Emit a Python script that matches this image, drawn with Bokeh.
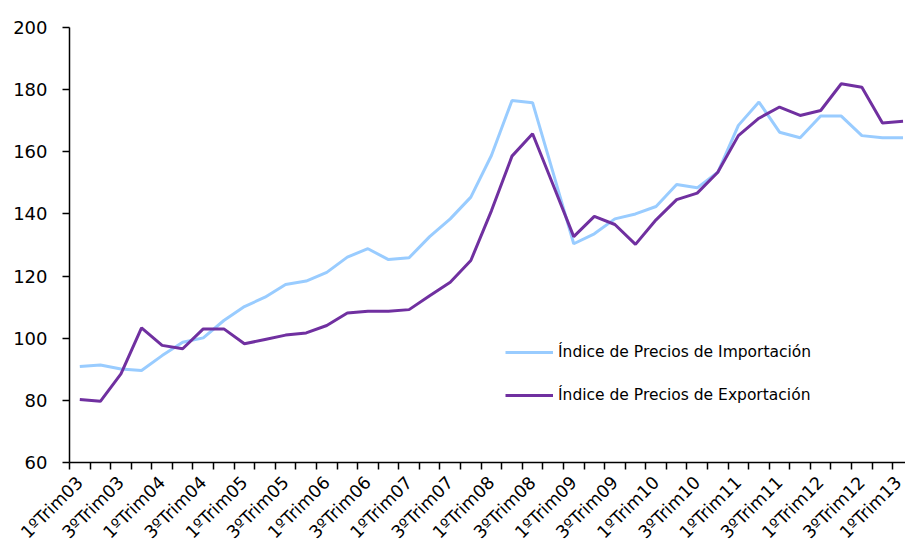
from bokeh.plotting import figure
from bokeh.models import Range1d, FixedTicker, Legend, LegendItem, ColumnDataSource
from bokeh.embed import file_html
from bokeh.resources import INLINE
import math

# ---- data ----
quarters = [f"{q}ºTrim{y:02d}" for y in range(3, 13) for q in (1, 2, 3, 4)] + ["1ºTrim13"]

importacion = [90.9, 91.4, 90.1, 89.6, 94.4, 98.7, 100.1, 105.7, 110.2, 113.2,
               117.3, 118.4, 121.2, 126.1, 128.8, 125.3, 125.9, 132.7, 138.4, 145.4,
               158.8, 176.5, 175.8, 153.2, 130.4, 133.6, 138.4, 140.0, 142.4, 149.5,
               148.4, 153.4, 168.5, 176.0, 166.3, 164.5, 171.5, 171.5, 165.2, 164.5,
               164.5]

exportacion = [80.3, 79.7, 88.5, 103.3, 97.7, 96.6, 103.0, 103.0, 98.2, 99.6,
               101.0, 101.7, 104.1, 108.1, 108.7, 108.7, 109.2, 113.7, 118.0, 125.0,
               141.0, 158.6, 165.8, 149.3, 132.7, 139.2, 136.6, 130.2, 138.1, 144.6,
               146.7, 153.4, 165.2, 170.8, 174.4, 171.7, 173.3, 181.9, 180.8, 169.3,
               169.8]

series_names = ["Índice de Precios de Importación", "Índice de Precios de Exportación"]
series_colors = ["#99CCFF", "#7030A0"]

y_ticks = [60, 80, 100, 120, 140, 160, 180, 200]

x = list(range(len(quarters)))
src = ColumnDataSource(dict(x=x, imp=importacion, exp=exportacion, q=quarters))

FONT = "DejaVu Sans"

p = figure(width=905, height=552, output_backend="svg", toolbar_location=None,
           x_range=Range1d(-0.5, 40.12), y_range=Range1d(60, 200),
           min_border_left=69, min_border_right=0, min_border_top=27, min_border_bottom=90)
p.outline_line_color = None
p.xgrid.visible = False
p.ygrid.visible = False

r_imp = p.line("x", "imp", source=src, line_color=series_colors[0], line_width=3)
r_exp = p.line("x", "exp", source=src, line_color=series_colors[1], line_width=3)

# x axis: tick marks at category boundaries, labels every other category
label_idx = list(range(0, len(quarters), 2))
p.xaxis.ticker = FixedTicker(ticks=label_idx, minor_ticks=[i - 0.5 for i in range(len(quarters) + 1)])
p.xaxis.major_label_overrides = {i: quarters[i] for i in label_idx}
p.xaxis.major_tick_line_color = None
p.xaxis.major_tick_out = 7
p.xaxis.major_tick_in = 0
p.xaxis.minor_tick_out = 7
p.xaxis.minor_tick_in = 0
p.xaxis.minor_tick_line_color = "#000000"
p.xaxis.minor_tick_line_width = 1.5
p.xaxis.axis_line_color = "#000000"
p.xaxis.axis_line_width = 1.5
p.xaxis.major_label_orientation = math.pi / 4
p.xaxis.major_label_text_font = FONT
p.xaxis.major_label_text_font_size = "17.5px"
p.xaxis.major_label_text_color = "#000000"
p.xaxis.major_label_standoff = 10

p.yaxis.ticker = FixedTicker(ticks=y_ticks, minor_ticks=[])
p.yaxis.major_tick_out = 7
p.yaxis.major_tick_in = 0
p.yaxis.major_tick_line_color = "#000000"
p.yaxis.major_tick_line_width = 1.5
p.yaxis.axis_line_color = "#000000"
p.yaxis.axis_line_width = 1.5
p.yaxis.major_label_text_font = FONT
p.yaxis.major_label_text_font_size = "18px"
p.yaxis.major_label_text_color = "#000000"
p.yaxis.major_label_standoff = 15

legend = Legend(items=[LegendItem(label=series_names[0], renderers=[r_imp]),
                       LegendItem(label=series_names[1], renderers=[r_exp])],
                location=(436, 57), orientation="vertical",
                border_line_color=None, background_fill_alpha=0,
                padding=0, margin=0, spacing=23,
                glyph_width=48, glyph_height=20, label_height=20,
                label_standoff=5, label_text_font=FONT,
                label_text_font_size="15.5px", label_text_color="#000000")
p.add_layout(legend, "center")

open("out.html", "w").write(file_html(p, INLINE))
